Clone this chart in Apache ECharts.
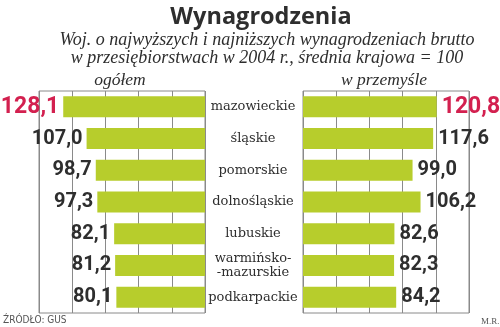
<!DOCTYPE html>
<html><head><meta charset="utf-8">
<script src="https://cdn.jsdelivr.net/npm/echarts@6/dist/echarts.min.js"></script>
<style>html,body{margin:0;padding:0;background:#fff}#c{width:500px;height:327px}</style>
</head><body><div id="c"></div>
<script>
const categories = ['mazowieckie','śląskie','pomorskie','dolnośląskie','lubuskie','warmińsko-\n-mazurskie','podkarpackie'];
const ogolem = [128.1,107.0,98.7,97.3,82.1,81.2,80.1];
const przemysl = [120.8,117.6,99.0,106.2,82.6,82.3,84.2];
const titleText = 'Wynagrodzenia';
const subtitleText = 'Woj. o najwyższych i najniższych wynagrodzeniach brutto\nw przesiębiorstwach w 2004 r., średnia krajowa = 100';
const leftLabel = 'ogółem';
const rightLabel = 'w przemyśle';
const sourceText = 'ŹRÓDŁO: GUS';
const authorText = 'M.R.';

const GREEN = '#b7cd2c', RED = '#d3204f', GRID = '#8a8a8a', TXT = '#2e2e2e';
const fmt = v => v.toFixed(1).replace('.', ',');
function mk(arr){
  return arr.map((v,i)=> i===0 ? {value:v,label:{color:RED,fontSize:23}} : v);
}
const chart = echarts.init(document.getElementById('c'), null, {renderer:'canvas'});
const grids = [
  {left:39, top:91, width:166, height:222, show:true, borderColor:GRID, borderWidth:1},
  {left:303, top:91, width:166, height:222, show:true, borderColor:GRID, borderWidth:1}
];
const xAxisBase = {type:'value', min:0, max:150, interval:30,
  axisLine:{show:false}, axisTick:{show:false}, axisLabel:{show:false},
  splitLine:{show:true, lineStyle:{color:GRID, width:1}}};
const serifItalic = {fontFamily:'Liberation Serif', fontStyle:'italic', fontWeight:'normal', fontSize:17.5, color:TXT};
chart.setOption({
  animation:false,
  title:[
    {text:titleText, left:256, top:0, textAlign:'center',
     textStyle:{fontFamily:'Open Sans', fontWeight:'bold', fontSize:23.5, color:TXT}},
    {text:subtitleText, left:262, top:26, textAlign:'center',
     textStyle:Object.assign({}, serifItalic, {fontSize:18, lineHeight:18})},
    {text:leftLabel, left:115, top:66, textAlign:'center', textStyle:serifItalic},
    {text:rightLabel, left:379, top:66, textAlign:'center', textStyle:serifItalic},
    {text:sourceText, left:3, top:315, padding:0,
     textStyle:{fontFamily:'DejaVu Sans Condensed', fontWeight:'normal', fontSize:10, color:'#555'}},
    {text:authorText, left:481, top:317, padding:0,
     textStyle:{fontFamily:'Liberation Serif', fontWeight:'normal', fontSize:9, color:'#555'}}
  ],
  grid:grids,
  xAxis:[
    Object.assign({gridIndex:0, inverse:true}, xAxisBase),
    Object.assign({gridIndex:1}, xAxisBase)
  ],
  yAxis:[
    {type:'category', gridIndex:0, data:categories, inverse:true, position:'right',
     axisLine:{show:false}, axisTick:{show:false}, splitLine:{show:false},
     axisLabel:{show:true, align:'center', margin:48, fontFamily:'DejaVu Serif', fontSize:13, lineHeight:14, color:TXT}},
    {type:'category', gridIndex:1, data:categories, inverse:true,
     axisLine:{show:false}, axisTick:{show:false}, splitLine:{show:false}, axisLabel:{show:false}}
  ],
  series:[
    {type:'bar', xAxisIndex:0, yAxisIndex:0, data:mk(ogolem), barWidth:21,
     itemStyle:{color:GREEN},
     label:{show:true, position:'left', distance:4, formatter:p=>fmt(p.value),
       fontFamily:'Roboto', fontWeight:'bold', fontSize:20, color:TXT}},
    {type:'bar', xAxisIndex:1, yAxisIndex:1, data:mk(przemysl), barWidth:21,
     itemStyle:{color:GREEN},
     label:{show:true, position:'right', distance:5, formatter:p=>fmt(p.value),
       fontFamily:'Roboto', fontWeight:'bold', fontSize:20, color:TXT}}
  ]
});
</script></body></html>
